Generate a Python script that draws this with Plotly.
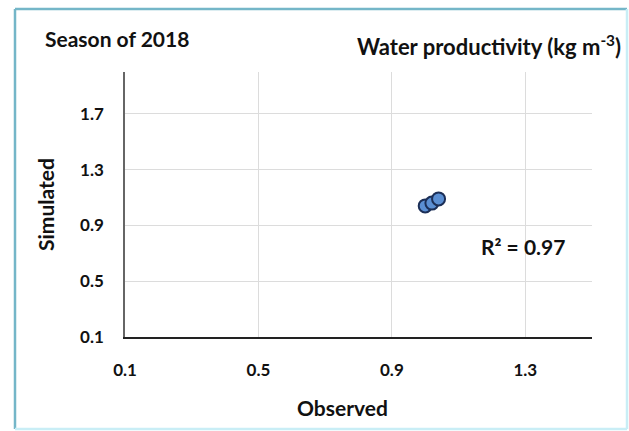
import plotly.graph_objects as go

# Observed vs simulated water productivity, 2018 season
observed = [1.00, 1.02, 1.04]
simulated = [1.04, 1.06, 1.09]
r_squared = 0.97
tick_vals = [0.1, 0.5, 0.9, 1.3, 1.7]

FONT = "Lato, 'Open Sans', sans-serif"

fig = go.Figure()
fig.add_trace(go.Scatter(
    x=observed, y=simulated, mode="markers",
    marker=dict(size=13, color="#5b8fd3", line=dict(color="#1c2f57", width=2)),
    showlegend=False,
))

# plot area bounds in pixels for the outer frame
L, R, T, B, W, H = 125, 37, 72, 94, 629, 431
pw, ph = W - L - R, H - T - B

def px_x(p):
    return (p - L) / pw

def px_y(p):
    return (H - B - p) / ph

x0, x1 = px_x(15), px_x(627)
y0, y1 = px_y(429), px_y(9)
dark = "#74b6c8"
light = "#c9eef6"
for (a, b, c, d, col) in [
    (x0, y0, x0, y1, dark), (x0, y1, x1, y1, dark),
    (x1, y1, x1, y0, light), (x0, y0, x1, y0, light),
]:
    fig.add_shape(type="line", xref="paper", yref="paper",
                  x0=a, y0=b, x1=c, y1=d, line=dict(color=col, width=2.5))

fig.add_annotation(xref="paper", yref="paper", x=px_x(43), y=px_y(38),
                   xanchor="left", yanchor="middle", showarrow=False,
                   text="<b>Season of 2018</b>",
                   font=dict(family=FONT, size=21, color="#111"))
fig.add_annotation(xref="paper", yref="paper", x=px_x(623), y=px_y(45),
                   xanchor="right", yanchor="middle", showarrow=False,
                   text="<b>Water productivity (kg m<sup>-3</sup>)</b>",
                   font=dict(family=FONT, size=22, color="#111"))
fig.add_annotation(xref="paper", yref="paper", x=px_x(479), y=px_y(246),
                   xanchor="left", yanchor="middle", showarrow=False,
                   text=f"<b>R² = {r_squared:.2f}</b>",
                   font=dict(family=FONT, size=21, color="#111"))
fig.add_annotation(xref="paper", yref="paper", x=px_x(342), y=px_y(407),
                   xanchor="center", yanchor="middle", showarrow=False,
                   text="<b>Observed</b>",
                   font=dict(family=FONT, size=21, color="#111"))

fig.update_layout(
    width=W, height=H,
    margin=dict(l=L, r=R, t=T, b=B),
    paper_bgcolor="white", plot_bgcolor="white",
    font=dict(family=FONT, color="#111"),
    xaxis=dict(
        range=[0.1, 1.5], tickvals=tick_vals[:4], ticktext=[f"{v:.1f}" for v in tick_vals[:4]],
        showgrid=True, gridcolor="#dcdcdc", gridwidth=1,
        showline=True, linecolor="#222", linewidth=1.5,
        zeroline=False, ticks="", ticklabelstandoff=17,
        tickfont=dict(family=FONT, size=17, color="#111", weight="bold"),
    ),
    yaxis=dict(
        range=[0.1, 2.0], tickvals=tick_vals, ticktext=[f"{v:.1f}" for v in tick_vals],
        showgrid=True, gridcolor="#dcdcdc", gridwidth=1,
        showline=True, linecolor="#666", linewidth=1.5,
        zeroline=False, ticks="", ticklabelstandoff=16,
        tickfont=dict(family=FONT, size=17, color="#111", weight="bold"),
        title=dict(text="<b>Simulated</b>", standoff=20,
                   font=dict(family=FONT, size=21, color="#111")),
    ),
)

fig.write_html("out.html")
